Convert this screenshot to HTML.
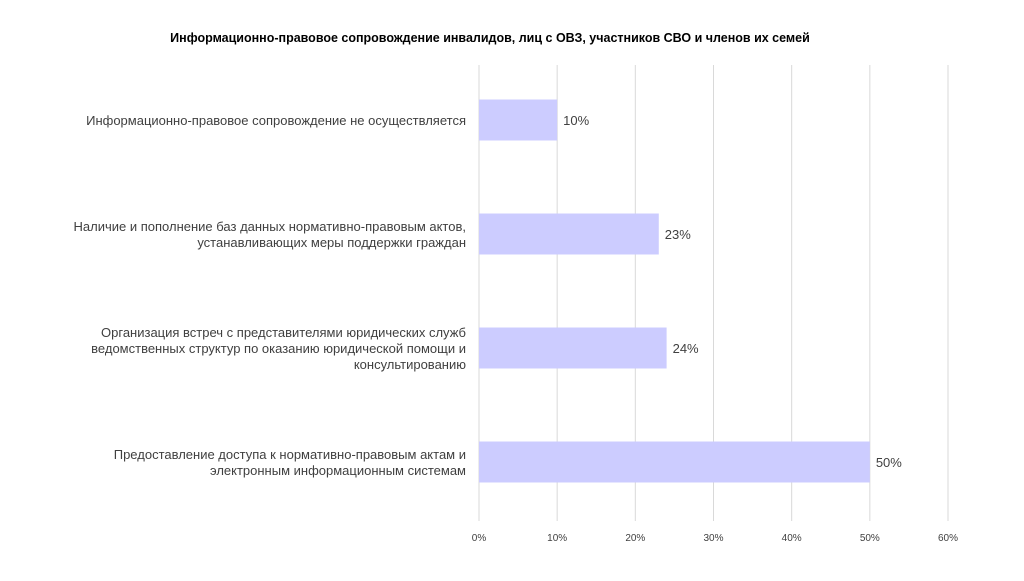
<!DOCTYPE html>
<html><head><meta charset="utf-8"><style>
body{margin:0;background:#fff;width:1024px;height:576px;overflow:hidden;font-family:"Liberation Sans","DejaVu Sans",sans-serif;}
svg text{font-family:"Liberation Sans","DejaVu Sans",sans-serif;}
</style></head><body>
<svg id="chart" width="1024" height="576" xmlns="http://www.w3.org/2000/svg">
<text x="490" y="42" text-anchor="middle" font-size="12.5" font-weight="bold" fill="#000">Информационно-правовое сопровождение инвалидов, лиц с ОВЗ, участников СВО и членов их семей</text>
<g id="grid"></g>
<g id="bars"></g>
<g id="labels"></g>
<g id="ticks"></g>
</svg>
<script>
const categories=[
 ["Информационно-правовое сопровождение не осуществляется"],
 ["Наличие и пополнение баз данных нормативно-правовым актов,","устанавливающих меры поддержки граждан"],
 ["Организация встреч с представителями юридических служб","ведомственных структур по оказанию юридической помощи и","консультированию"],
 ["Предоставление доступа к нормативно-правовым актам и","электронным информационным системам"]
];
const values=[10,23,24,50];
const tickValues=[0,10,20,30,40,50,60];
const tickLabels=["0%","10%","20%","30%","40%","50%","60%"];
const NS="http://www.w3.org/2000/svg";
const x0=479,x1=948,vmax=60,yTop=65,yBottom=521;
const xs=v=>x0+(x1-x0)*v/vmax;
const band=(yBottom-yTop)/categories.length;
const yc=i=>yTop+band*(i+0.5)-2;
function mk(t,a,p){const e=document.createElementNS(NS,t);for(const k in a)e.setAttribute(k,a[k]);p.appendChild(e);return e;}
const gridG=document.getElementById('grid'),barsG=document.getElementById('bars'),labelsG=document.getElementById('labels'),ticksG=document.getElementById('ticks');
tickValues.forEach((v,i)=>{
 const l=mk('line',{x1:xs(v),x2:xs(v),y1:yTop,y2:yBottom,stroke:'#d9d9d9','stroke-width':1},gridG);
 
 
 const t=mk('text',{x:xs(v),y:541,'text-anchor':'middle','font-size':10,fill:'#404040'},ticksG);
 
 
 t.textContent=tickLabels[i];
});
values.forEach((v,i)=>{
 const y=yc(i);
 const r=mk('rect',{x:xs(0),y:y-20.5,width:xs(v)-xs(0),height:41,fill:'#ccccff'},barsG);
 
 
 const t=mk('text',{x:xs(v)+6,y:y+5,'font-size':13,fill:'#404040'},barsG);
 
 
 t.textContent=v+'%';
 const lines=categories[i];
 lines.forEach((s,j)=>{
  const c=mk('text',{x:466,y:y+5+(j-(lines.length-1)/2)*16,'text-anchor':'end','font-size':13,fill:'#404040'},labelsG);
  
  
  c.textContent=s;
 });
});
</script>
</body></html>
